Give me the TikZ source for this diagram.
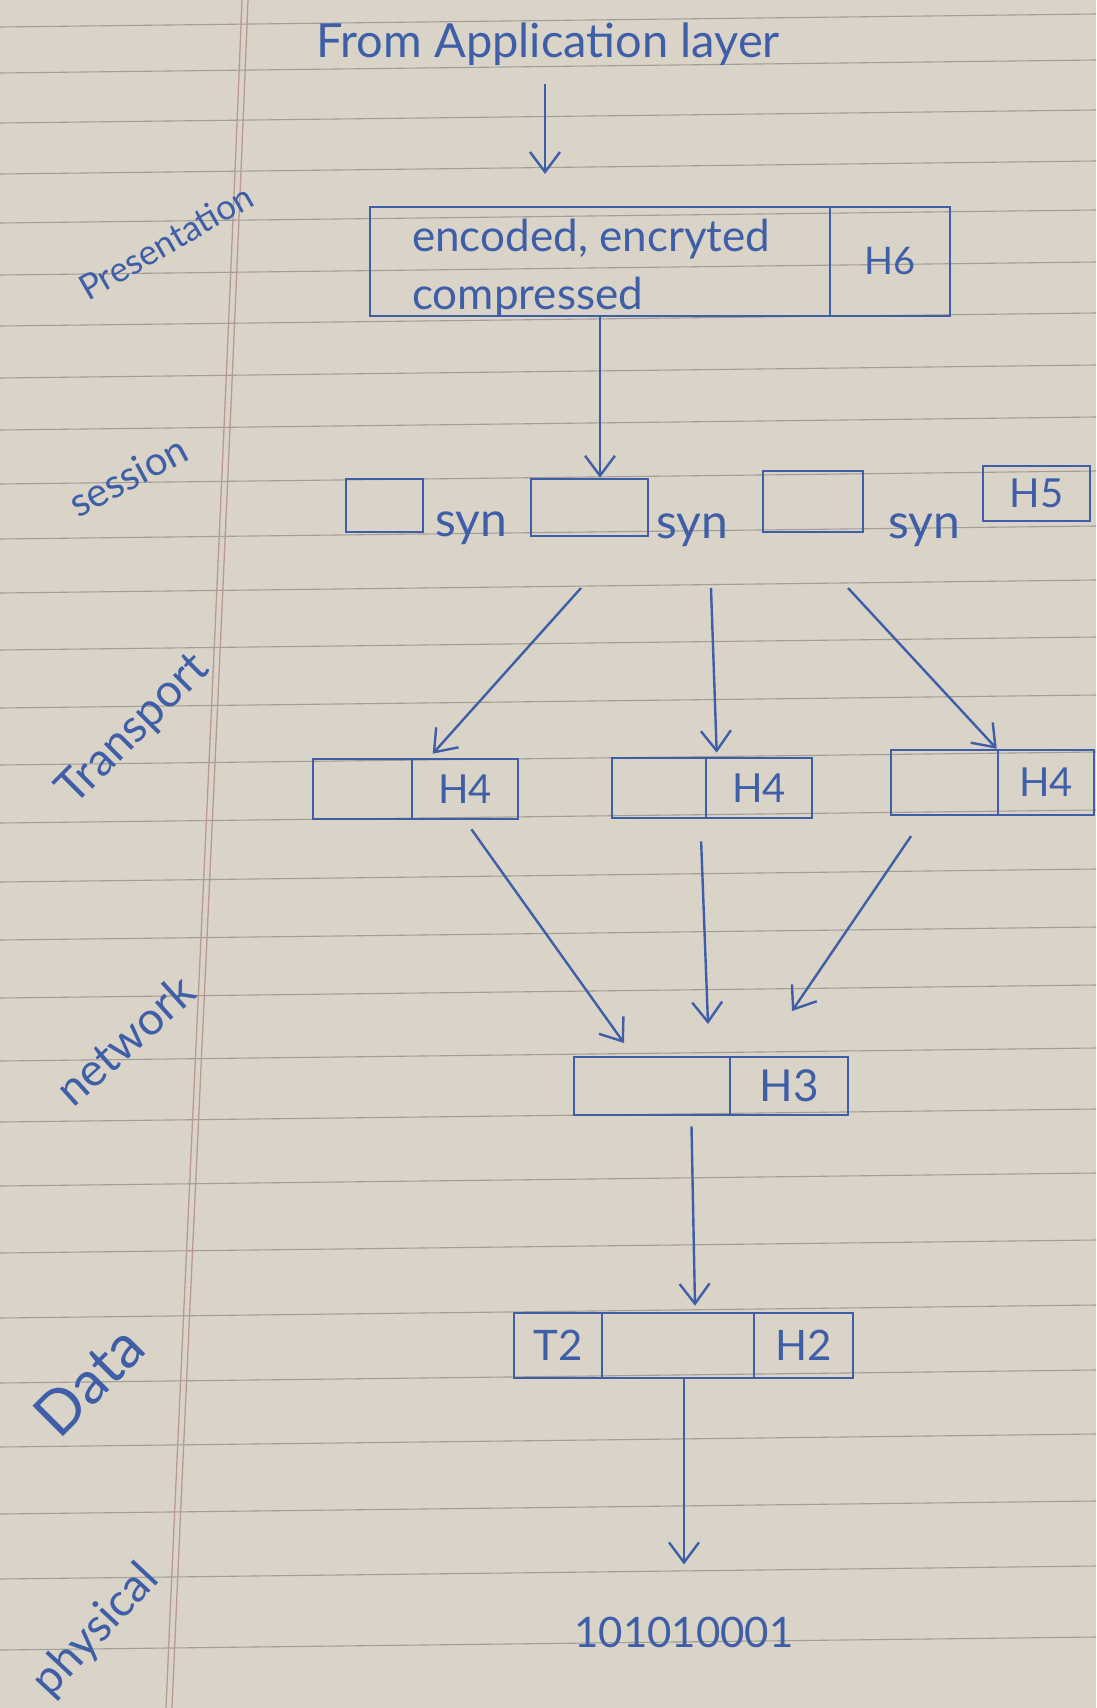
\documentclass[tikz,border=0pt]{standalone}
\usepackage{fontspec}
\setmainfont{Lato}
\usetikzlibrary{calc,arrows.meta}
\definecolor{paper}{HTML}{D9D3C8}
\definecolor{ruling}{HTML}{A39D94}
\definecolor{marginc}{HTML}{B89A93}
\definecolor{ink}{HTML}{3E5FA8}
\newcommand{\fs}[1]{\fontsize{#1}{#1}\selectfont}
\begin{document}
\begin{tikzpicture}[x=1pt,y=-1pt,
  cell/.style={draw=ink, line width=2.6pt, inner sep=0pt, text=ink, font=\fs{40}},
  lbl/.style={text=ink, inner sep=0pt},
  side/.style={text=ink, inner sep=0pt},
  arr/.style={draw=ink, line width=2.4pt, -{Straight Barb[length=20pt,width=30pt]}},
]
% paper
\fill[paper] (0,0) rectangle (1096,1708);
\useasboundingbox (0,0) rectangle (1096,1708);
\foreach \y in {22,68,118,169,218,270,321,373,425,479,534,588,645,703,760,818,877,935,993,1056,1117,1181,1248,1313,1378,1442,1509,1574,1645}
  \draw[ruling, line width=1.1pt] (0,\y+5) -- (1096,\y-8);
\draw[marginc, line width=1.3pt] (242,0) .. controls (218,600) and (188,1200) .. (166,1708);
\draw[marginc, line width=1.3pt] (248,0) .. controls (224,600) and (194,1200) .. (172,1708);

% title
\node[lbl, font=\fs{47}] (title) at (548,44) {From Application layer};
\coordinate (a1e) at (545,174);
\draw[arr, shorten <=18pt] (title.south -| a1e) -- (a1e);

% presentation
\node[cell, minimum width=460pt, minimum height=109pt] (pmain) at (600,261.5) {};
\node[lbl, anchor=west, align=left, font=\fontsize{44}{58}\selectfont] (ptext) at (412,268) {encoded, encryted\\compressed};
\node[cell, minimum width=120pt, minimum height=109pt, font=\fs{38}] (ph6) at (890,261.5) {H6};

% session
\node[cell, minimum width=77pt, minimum height=53pt] (s1) at (384.5,505.5) {};
\node[lbl, font=\fs{48}] (syn1) at (471,528) {syn};
\node[cell, minimum width=117pt, minimum height=57pt] (s2) at (589.5,507.5) {};
\node[lbl, font=\fs{48}] (syn2) at (692,530) {syn};
\node[cell, minimum width=100pt, minimum height=61pt] (s3) at (813,501.5) {};
\node[lbl, font=\fs{48}] (syn3) at (924,530) {syn};
\node[cell, minimum width=107pt, minimum height=55pt] (s4) at (1036.5,493.5) {H5};
\draw[arr] (pmain.south -| pmain.center) -- (pmain.center |- s2.north);

% transport
\node[cell, minimum width=99pt, minimum height=60pt] (ta1) at (362.5,789) {};
\node[cell, minimum width=106pt, minimum height=60pt] (ta2) at (465,789) {H4};
\node[cell, minimum width=94pt, minimum height=60pt] (tb1) at (659,788) {};
\node[cell, minimum width=106pt, minimum height=60pt] (tb2) at (759,788) {H4};
\node[cell, minimum width=107pt, minimum height=65pt] (tc1) at (944.5,782.5) {};
\node[cell, minimum width=96pt, minimum height=65pt] (tc2) at (1046,782.5) {H4};
\coordinate (ts1) at (581,588);
\coordinate (ts2) at (711,588);
\coordinate (ts3) at (848,588);
\draw[arr] (ts1) -- ($(ta2.north west)+(22,-4)$);
\draw[arr] (ts2) -- ($(tb2.north west)+(12,-4)$);
\draw[arr] (ts3) -- (tc2.north west);

% network
\node[cell, minimum width=156pt, minimum height=58pt] (n1) at (652,1086) {};
\node[cell, minimum width=118pt, minimum height=58pt, font=\fs{44}] (n2) at (789,1086) {H3};
\coordinate (ne1) at (624,1043);
\coordinate (ne2) at (708,1024);
\coordinate (ne3) at (792,1011);
\draw[arr, shorten <=11pt] (ta2.south) -- (ne1);
\draw[arr, shorten <=22pt] ($(tb1.south east)+(-7,0)$) -- (ne2);
\draw[arr, shorten <=24pt] ($(tc1.south)+(-20,0)$) -- (ne3);

% data link
\node[cell, minimum width=88pt, minimum height=65pt, font=\fs{42}] (d1) at (558,1345.5) {T2};
\node[cell, minimum width=152pt, minimum height=65pt] (d2) at (678,1345.5) {};
\node[cell, minimum width=99pt, minimum height=65pt, font=\fs{42}] (d3) at (803.5,1345.5) {H2};
\draw[arr, shorten <=10pt] ($(n1.south east)+(-40,0)$) -- ($(d2.north)+(17,-6)$);

% physical
\node[lbl, font=\fs{42}] (bits) at (684,1632) {101010001};
\draw[arr, shorten >=52pt] (d2.south -| bits) -- (bits.north);

% layer labels
\node[side, rotate=30, font=\fs{35}] (lp) at (166,242) {Presentation};
\node[side, rotate=28, font=\fs{40}] (ls) at (128,476) {session};
\node[side, rotate=45, font=\fs{46}] (lt) at (134,730) {Transport};
\node[side, rotate=42, font=\fs{46}] (ln) at (125,1040) {network};
\node[side, rotate=45, font=\fs{60}] (ld) at (89,1381) {Data};
\node[side, rotate=47, font=\fs{46}] (lph) at (96,1631) {physical};
\end{tikzpicture}
\end{document}
